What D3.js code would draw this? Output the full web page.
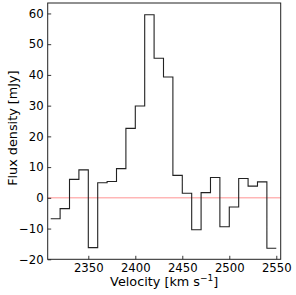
<!DOCTYPE html>
<html>
<head>
<meta charset="utf-8">
<script src="https://cdn.jsdelivr.net/npm/d3@7"></script>
<style>
  body { margin: 0; background: #fff; }
  svg text { font-family: "DejaVu Sans", sans-serif; }
</style>
</head>
<body>
<div id="chart"></div>
<script>
// bin edges (km/s) and flux per bin (mJy)
const binEdges = [2310, 2320, 2330, 2340, 2350, 2360, 2370, 2380, 2390, 2400, 2410, 2420,
    2430, 2440, 2450, 2460, 2470, 2480, 2490, 2500, 2510, 2520, 2530, 2540, 2550];
const flux = [-6.8, -3.5, 6.0, 9.1, -16.2, 4.9, 5.3, 9.5, 22.6, 29.9, 59.6, 45.4,
    39.3, 7.3, 1.5, -10.4, 1.7, 6.6, -9.4, -3.0, 6.3, 3.8, 5.2, -16.4];
const xTicks = [2350, 2400, 2450, 2500, 2550];
const yTicks = [-20, -10, 0, 10, 20, 30, 40, 50, 60];

// set the dimensions and margins of the graph
const margin = {top: 3, right: 15.3, bottom: 35.7, left: 47.7},
    width = 296 - margin.left - margin.right,
    height = 295 - margin.top - margin.bottom;

const svg = d3.select("#chart")
    .append("svg")
    .attr("width", 296)
    .attr("height", 295)
    .append("g")
    .attr("transform", `translate(${margin.left}, ${margin.top})`);

const x = d3.scaleLinear()
    .domain([2306.8, 2554.7])
    .range([0, width]);
const y = d3.scaleLinear()
    .domain([-20, 63.4])
    .range([height, 0]);

// zero line
svg.append("line")
    .attr("x1", 0)
    .attr("x2", width)
    .attr("y1", y(0))
    .attr("y2", y(0))
    .attr("stroke", "#ff7070")
    .attr("stroke-opacity", 0.85)
    .attr("stroke-width", 0.9);

// step spectrum
const steps = [];
flux.forEach(function(v, i) {
    steps.push([binEdges[i], v]);
    steps.push([binEdges[i + 1], v]);
});
svg.append("path")
    .datum(steps)
    .attr("fill", "none")
    .attr("stroke", "#222")
    .attr("stroke-width", 1.1)
    .attr("d", d3.line()
        .x(function(d) { return x(d[0]); })
        .y(function(d) { return y(d[1]); }));

// X axis
const xAxis = svg.append("g")
    .attr("transform", `translate(0, ${height})`)
    .call(d3.axisBottom(x).tickValues(xTicks).tickFormat(d3.format("d"))
        .tickSizeInner(-3.5).tickSizeOuter(0));

// Y axis
const yAxis = svg.append("g")
    .call(d3.axisLeft(y).tickValues(yTicks).tickFormat(d3.format("d"))
        .tickSizeInner(-3.5).tickSizeOuter(0).tickPadding(4));

[xAxis, yAxis].forEach(function(a) {
    a.select(".domain").remove();
    a.selectAll("text")
        .style("font-size", "11.7px")
        .style("font-family", "DejaVu Sans")
        .attr("fill", "#000");
    a.selectAll("line").attr("stroke", "#000").attr("stroke-width", 0.8);
});
xAxis.selectAll("text").attr("y", 4).attr("dy", "0.71em");

// frame
svg.append("rect")
    .attr("x", 0)
    .attr("y", 0)
    .attr("width", width)
    .attr("height", height)
    .attr("fill", "none")
    .attr("stroke", "#222")
    .attr("stroke-width", 1);

// labels
svg.append("text")
    .attr("x", width / 2)
    .attr("y", height + 27)
    .attr("text-anchor", "middle")
    .style("font-size", "12.8px")
    .html('Velocity [km s<tspan dy="-5" font-size="9px">\u22121</tspan><tspan dy="5">]</tspan>');

svg.append("text")
    .attr("transform", `translate(${13 - margin.left}, ${height / 2 - 3}) rotate(-90)`)
    .attr("text-anchor", "middle")
    .attr("dy", "0.35em")
    .style("font-size", "12.8px")
    .text("Flux density [mJy]");
</script>
</body>
</html>
